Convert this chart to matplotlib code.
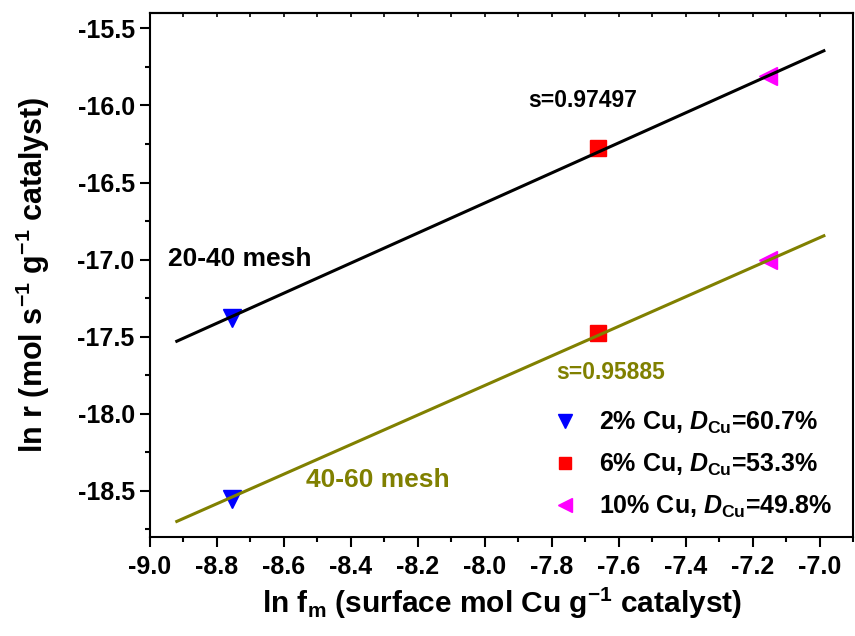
import numpy as np
import matplotlib
matplotlib.use('Agg')
import matplotlib.pyplot as plt
from matplotlib.ticker import MultipleLocator

# ln f_m of the three catalysts (2%, 6%, 10% Cu)
LN_FM = [-8.755, -7.661, -7.155]
# ln r for the two particle sizes
LN_R_2040 = [-17.38, -16.274, -15.81]
LN_R_4060 = [-18.555, -17.474, -17.003]
LABELS = [r'2% Cu, $D_{\mathrm{Cu}}$=60.7%',
          r'6% Cu, $D_{\mathrm{Cu}}$=53.3%',
          r'10% Cu, $D_{\mathrm{Cu}}$=49.8%']
MARKERS = ['v', 's', '<']
COLORS = ['#0000ff', '#ff0000', '#ff00ff']

# linear fits: slope, intercept, and the x span drawn
FIT_2040 = (0.97497, -8.833)
FIT_4060 = (0.95885, -10.146)
FIT_X = [-8.92, -6.987]

plt.rcParams['font.family'] = ['Liberation Sans', 'DejaVu Sans']
plt.rcParams['font.weight'] = 'bold'
plt.rcParams['mathtext.fontset'] = 'custom'
plt.rcParams['mathtext.rm'] = 'Liberation Sans:bold'
plt.rcParams['mathtext.bf'] = 'Liberation Sans:bold'
plt.rcParams['mathtext.it'] = 'Liberation Sans:italic:bold'

fig = plt.figure(figsize=(8.55, 6.36), dpi=100)
ax = fig.add_axes([150/855, 1-537/636, 703/855, 524/636])

# points
for x, y1, y2, lab, m, c in zip(LN_FM, LN_R_2040, LN_R_4060, LABELS, MARKERS, COLORS):
    ax.plot([x, x], [y1, y2], linestyle='none', marker=m, color=c,
            markersize=11 if m == 's' else 12.5, label=lab, zorder=2)

# fit lines
fx = np.array(FIT_X)
ax.plot(fx, FIT_2040[0]*fx + FIT_2040[1], color='black', lw=2.2, zorder=3)
ax.plot(fx, FIT_4060[0]*fx + FIT_4060[1], color='#808000', lw=2.2, zorder=3)

ax.text(-7.869, -15.965, 's=0.97497', fontsize=16.5, fontweight='bold',
        va='center', ha='left')
ax.text(-8.945, -16.995, '20-40 mesh', fontsize=19, fontweight='bold',
        va='center', ha='left')
ax.text(-8.535, -18.43, '40-60 mesh', fontsize=19, fontweight='bold',
        va='center', ha='left', color='#808000')
ax.text(-7.786, -17.73, 's=0.95885', fontsize=16.5, fontweight='bold',
        va='center', ha='left', color='#808000')

ax.set_xlim(-9.0, -6.9)
ax.set_ylim(-18.8, -15.4)
ax.xaxis.set_major_locator(MultipleLocator(0.2))
ax.xaxis.set_minor_locator(MultipleLocator(0.1))
ax.yaxis.set_major_locator(MultipleLocator(0.5))
ax.yaxis.set_minor_locator(MultipleLocator(0.25))
ax.xaxis.set_major_formatter(lambda v, p: '%.1f' % v)
ax.yaxis.set_major_formatter(lambda v, p: '%.1f' % v)

for s in ax.spines.values():
    s.set_linewidth(1.5)
ax.tick_params(which='major', direction='out', length=7, width=1.5,
               labelsize=18, pad=4)
ax.tick_params(which='minor', direction='out', length=3.5, width=1.5)
ax.tick_params(axis='x', which='major', pad=6)

top = ax.secondary_xaxis('top')
top.xaxis.set_major_locator(MultipleLocator(0.1))
top.tick_params(which='major', direction='in', length=3, width=1.2,
                labeltop=False)
top.spines['top'].set_linewidth(1.5)

ax.set_xlabel(r'ln f$_{\mathrm{m}}$ (surface mol Cu g$^{\mathrm{-1}}$ catalyst)',
              fontsize=21.5, fontweight='bold', labelpad=5)
ax.set_ylabel(r'ln r (mol s$^{\mathrm{-1}}$ g$^{\mathrm{-1}}$ catalyst)',
              fontsize=22, fontweight='bold', labelpad=18)

ax.legend(loc='upper left', bbox_to_anchor=(0.573, 0.242), frameon=False,
          fontsize=18, handlelength=1.0, handletextpad=0.85, borderpad=0,
          borderaxespad=0, labelspacing=0.62, markerscale=0.75, numpoints=1)

fig.savefig('out.png', dpi=100)
